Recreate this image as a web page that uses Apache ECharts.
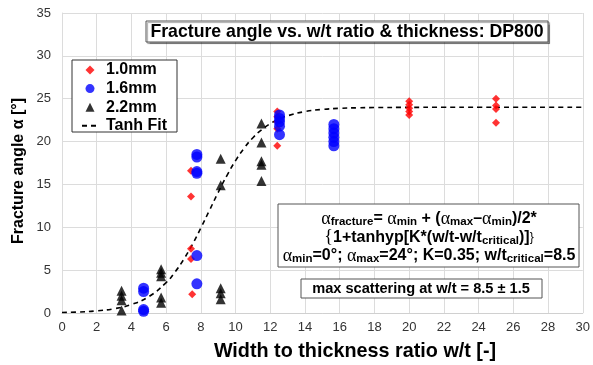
<!DOCTYPE html>
<html>
<head>
<meta charset="utf-8">
<script src="https://cdn.jsdelivr.net/npm/echarts@6/dist/echarts.min.js"></script>
<style>
  html, body { margin: 0; padding: 0; background: #fff; }
  #chart { width: 593px; height: 365px; }
</style>
</head>
<body>
<div id="chart"></div>
<script>
// Measured fracture angles [°] per sheet thickness, as [w/t, angle]
const series10mm = [
  [7.43, 16.6], [7.43, 13.6], [7.43, 7.5], [7.43, 6.3], [7.5, 2.2],
  [12.4, 23.5], [12.4, 22.9], [12.4, 22.3], [12.4, 21.5], [12.4, 19.5],
  [20, 24.7], [20, 24.3], [20, 23.9], [20, 23.5], [20, 23.1],
  [25, 25.0], [25, 24.2], [25, 23.8], [25, 22.2]
];
const series16mm = [
  [7.77, 18.5], [7.77, 18.2], [7.77, 16.5], [7.77, 16.3], [7.77, 6.7], [7.77, 3.4],
  [4.7, 2.9], [4.7, 2.5], [4.7, 0.4], [4.7, 0.2],
  [12.53, 23.1], [12.53, 22.7], [12.53, 22.3], [12.53, 21.8], [12.53, 20.8],
  [15.66, 22.0], [15.66, 21.5], [15.66, 21.0], [15.66, 20.5], [15.66, 20.0], [15.66, 19.5]
];
const series22mm = [
  [3.43, 2.6], [3.43, 2.0], [3.43, 1.5], [3.43, 0.3],
  [5.71, 5.1], [5.71, 4.7], [5.71, 4.3], [5.71, 1.8], [5.71, 1.2],
  [9.14, 18.0], [9.14, 14.9], [9.14, 2.9], [9.14, 2.3], [9.14, 1.6],
  [11.49, 22.1], [11.49, 19.9], [11.49, 17.7], [11.49, 17.3], [11.49, 15.4]
];

// Tanh fit curve, sampled points
const fitX = [0, 1, 2, 3, 4, 5, 6, 6.5, 7, 7.5, 8, 8.5, 9, 9.5, 10, 10.5, 11, 11.5, 12, 12.5, 13, 14, 15, 16, 17, 18, 20, 22, 24, 26, 28, 30];
const fitY = [0.06, 0.12, 0.25, 0.5, 0.99, 1.91, 3.55, 4.75, 6.22, 7.96, 9.92, 12.0, 14.08, 16.04, 17.78, 19.25, 20.45, 21.38, 22.09, 22.62, 23.01, 23.5, 23.75, 23.88, 23.94, 23.97, 23.99, 24.0, 24.0, 24.0, 24.0, 24.0];

const seriesNames = ['1.0mm', '1.6mm', '2.2mm', 'Tanh Fit'];
const xTicks = { min: 0, max: 30, interval: 2 };
const yTicks = { min: 0, max: 35, interval: 5 };

const titleText = 'Fracture angle vs. w/t ratio & thickness: DP800';
const xName = 'Width to thickness ratio w/t [-]';
const yName = 'Fracture angle α [°]';
const scatterNote = 'max scattering at w/t = 8.5 ± 1.5';

const chart = echarts.init(document.getElementById('chart'), null, { renderer: 'canvas' });

const boldFont = 'Liberation Sans, Arial, sans-serif';
const rich = {
  t: { fontFamily: boldFont, fontWeight: 'bold', fontSize: 16, color: '#000', lineHeight: 18.5 },
  a: { fontFamily: 'Liberation Serif, Times New Roman, serif', fontSize: 18, color: '#000', lineHeight: 18.5 },
  s: { fontFamily: boldFont, fontWeight: 'bold', fontSize: 11.5, color: '#000', lineHeight: 18.5, verticalAlign: 'bottom', padding: [7, 0, 0, 0] }
};

// legend marker shapes (kept square inside the legend slot)
const diamondIcon = 'path://M5,0L10,5L5,10L0,5Z';
const triangleIcon = 'path://M5,0L10,10L0,10Z';

const option = {
  animation: false,
  backgroundColor: '#fff',
  grid: { left: 62, right: 6, top: 13, bottom: 52, containLabel: false },
  xAxis: {
    type: 'value',
    min: xTicks.min, max: xTicks.max, interval: xTicks.interval,
    axisLine: { show: true, lineStyle: { color: '#d0d0d0', width: 1 } },
    axisTick: { show: false },
    axisLabel: { color: '#333', fontSize: 13, fontFamily: boldFont, margin: 8 },
    splitLine: { show: true, lineStyle: { color: '#dcdcdc', width: 1 } }
  },
  yAxis: {
    type: 'value',
    min: yTicks.min, max: yTicks.max, interval: yTicks.interval,
    axisLine: { show: true, lineStyle: { color: '#dcdcdc', width: 1 } },
    axisTick: { show: false },
    axisLabel: { color: '#333', fontSize: 13, fontFamily: boldFont, margin: 11 },
    splitLine: { show: true, lineStyle: { color: '#dcdcdc', width: 1 } }
  },
  legend: {
    orient: 'vertical',
    left: 81, top: 62,
    itemWidth: 16, itemHeight: 9,
    itemGap: 2.6,
    padding: 0,
    symbolKeepAspect: true,
    textStyle: { fontFamily: boldFont, fontWeight: 'bold', fontSize: 16, color: '#000', padding: [0, 0, 0, 3] },
    data: [
      { name: seriesNames[0], icon: diamondIcon },
      { name: seriesNames[1], icon: 'circle' },
      { name: seriesNames[2], icon: triangleIcon },
      { name: seriesNames[3], itemStyle: { color: 'rgba(0,0,0,0)', borderWidth: 0 } }
    ],
    z: 10
  },
  series: [
    {
      name: seriesNames[3], type: 'line', data: fitX.map((x, i) => [x, fitY[i]]),
      smooth: true, symbol: 'none', showSymbol: false,
      lineStyle: { color: '#000', width: 1.6, type: [5, 4] }, itemStyle: { color: '#000' }, z: 2
    },
    {
      name: seriesNames[0], type: 'scatter', data: series10mm, symbol: 'diamond', symbolSize: 8,
      itemStyle: { color: '#ff0000' }, z: 3
    },
    {
      name: seriesNames[1], type: 'scatter', data: series16mm, symbol: 'circle', symbolSize: 11,
      itemStyle: { color: '#0000ff' }, z: 4
    },
    {
      name: seriesNames[2], type: 'scatter', data: series22mm, symbol: 'triangle', symbolSize: 10,
      itemStyle: { color: '#000' }, z: 5
    }
  ],
  graphic: [
    // chart title box
    { type: 'rect', z: 5, shape: { x: 146, y: 21, width: 402, height: 21 },
      style: { fill: '#fff', stroke: '#555', lineWidth: 1, shadowColor: 'rgba(0,0,0,0.35)', shadowOffsetX: 1.5, shadowOffsetY: 1.5, shadowBlur: 1 } },
    { type: 'text', z: 6, x: 347, y: 32,
      style: { text: titleText, fontFamily: boldFont, fontWeight: 'bold', fontSize: 17.7, fill: '#000', align: 'center', verticalAlign: 'middle' } },
    // legend frame
    { type: 'rect', z: 4, shape: { x: 72, y: 60, width: 105, height: 72 },
      style: { fill: '#fff', stroke: '#333', lineWidth: 1 } },
    // fit formula box
    { type: 'rect', z: 5, shape: { x: 278, y: 204, width: 301, height: 63 },
      style: { fill: '#fff', stroke: '#555', lineWidth: 1 } },
    { type: 'text', z: 6, x: 429, y: 237.5,
      style: {
        text: '{a|α}{s|fracture}{t|= }{a|α}{s|min}{t| + (}{a|α}{s|max}{t|–}{a|α}{s|min}{t|)/2*}\n' +
              '{a|{}{t|1+tanhyp[K*(w/t-w/t}{s|critical}{t|)]}{a|}}\n' +
              '{a|α}{s|min}{t|=0°; }{a|α}{s|max}{t|=24°; K=0.35; w/t}{s|critical}{t|=8.5}',
        rich: rich, align: 'center', verticalAlign: 'middle'
      } },
    // scattering note box
    { type: 'rect', z: 5, shape: { x: 301, y: 279, width: 241, height: 19 },
      style: { fill: '#fff', stroke: '#555', lineWidth: 1 } },
    { type: 'text', z: 6, x: 421, y: 289,
      style: { text: scatterNote, fontFamily: boldFont, fontWeight: 'bold', fontSize: 14.6, fill: '#000', align: 'center', verticalAlign: 'middle' } },
    // axis titles
    { type: 'text', z: 6, x: 355, y: 352,
      style: { text: xName, fontFamily: boldFont, fontWeight: 'bold', fontSize: 19.8, fill: '#000', align: 'center', verticalAlign: 'middle' } },
    { type: 'text', z: 6, x: 19, y: 171, rotation: Math.PI / 2,
      style: { text: yName, fontFamily: boldFont, fontWeight: 'bold', fontSize: 16, fill: '#000', align: 'center', verticalAlign: 'middle' } }
  ]
};

chart.setOption(option);
</script>
</body>
</html>
